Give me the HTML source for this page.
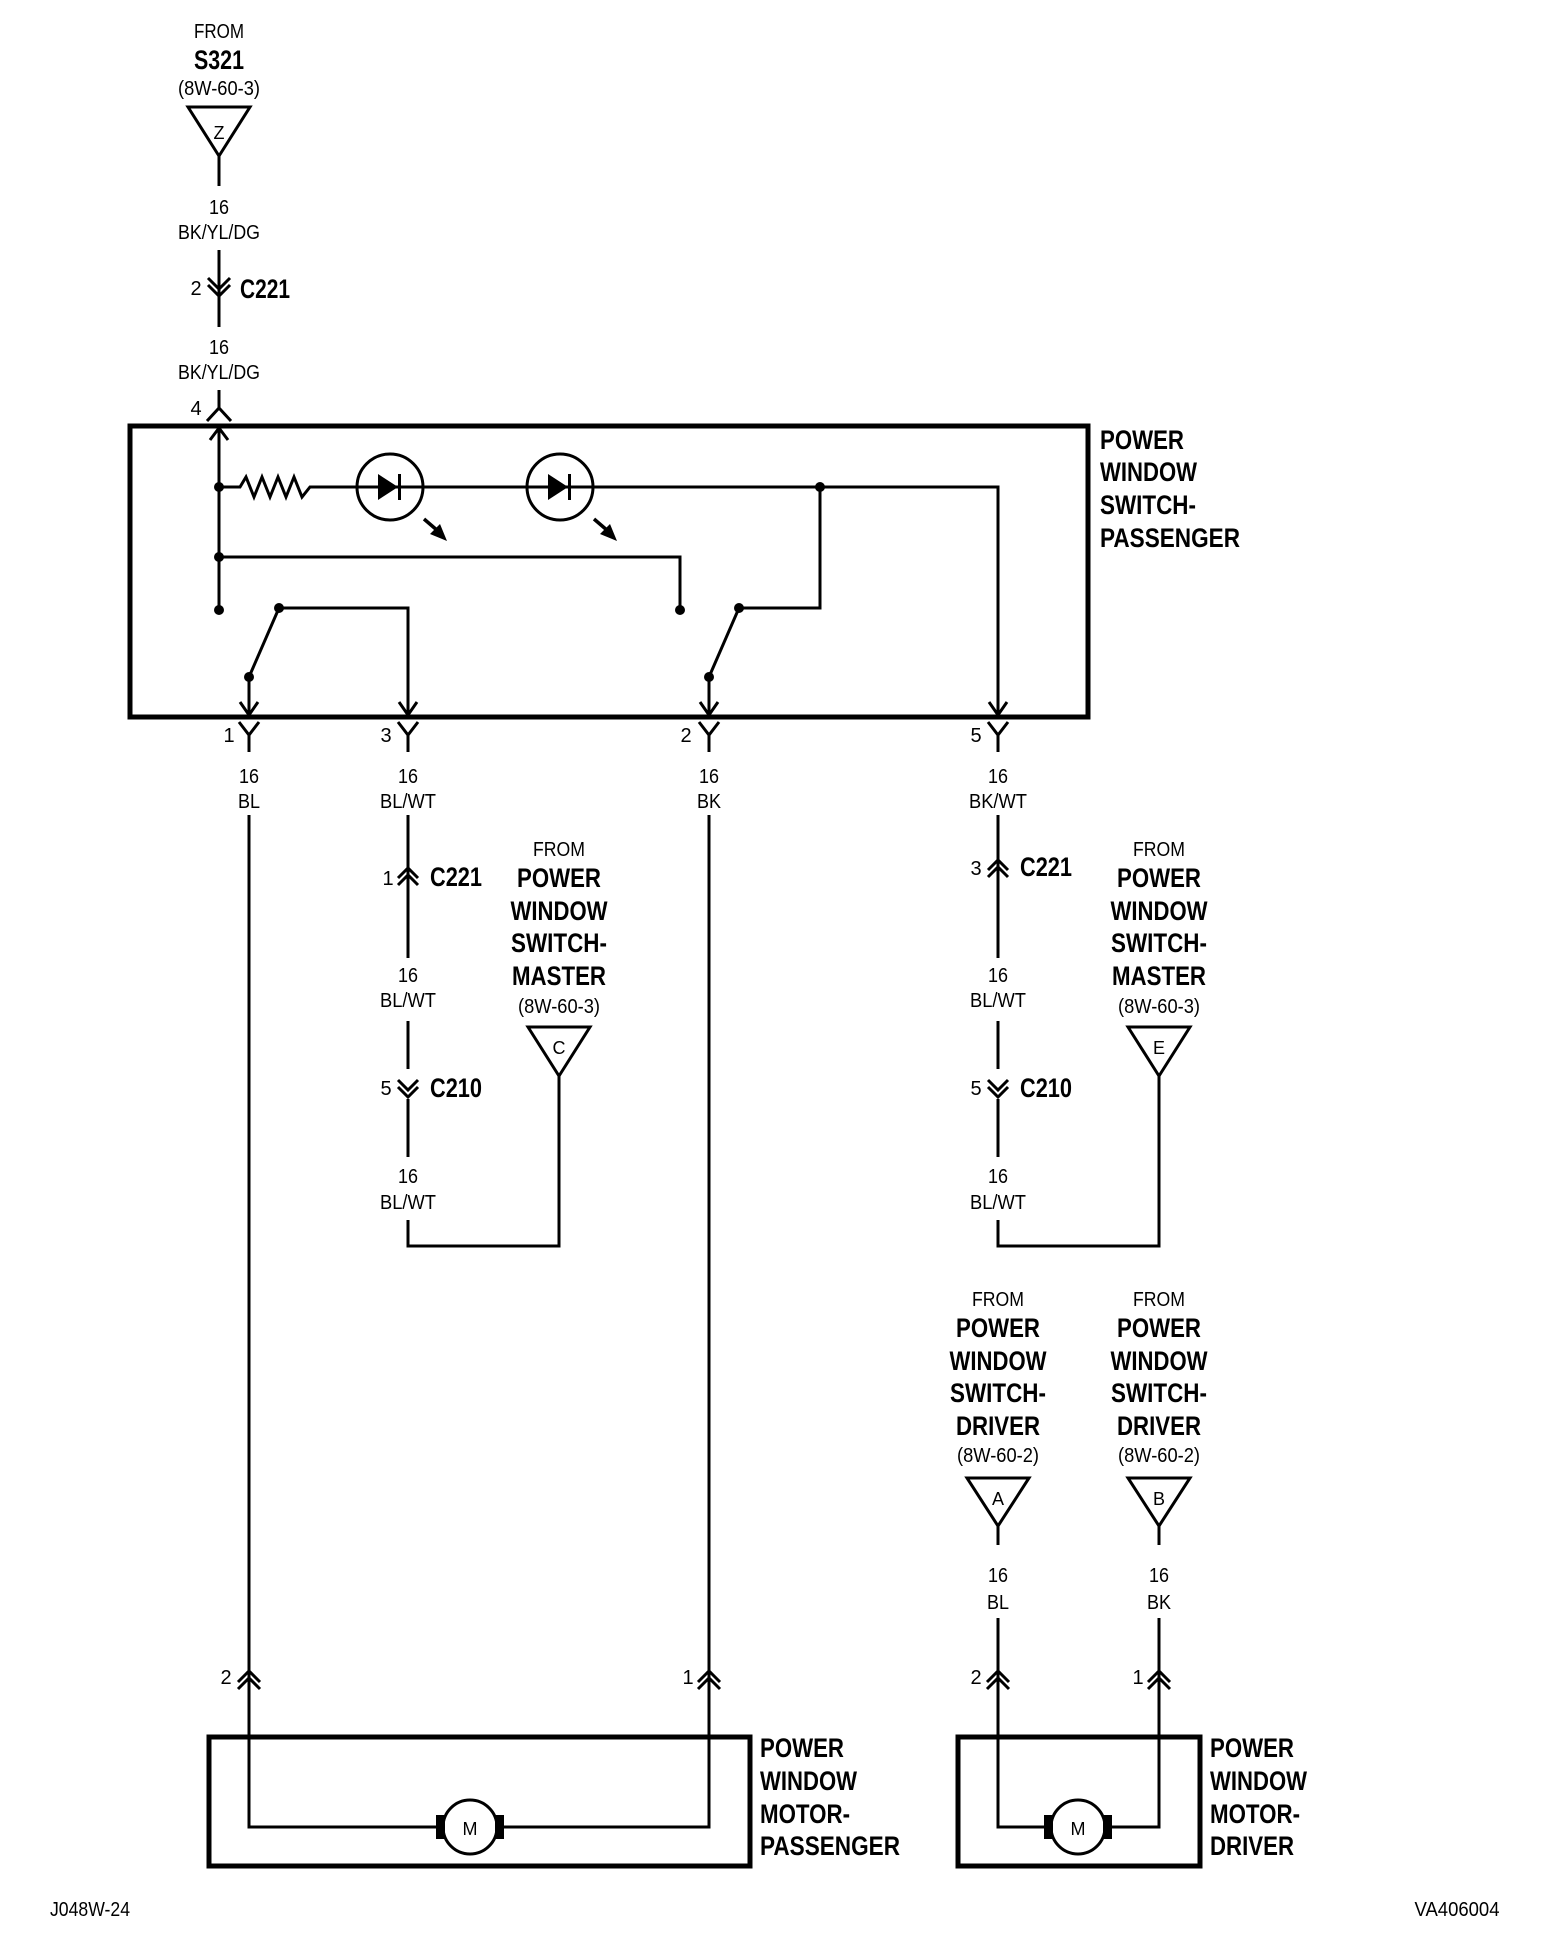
<!DOCTYPE html>
<html><head><meta charset="utf-8"><style>
html,body{margin:0;padding:0;background:#fff;}
svg{display:block}
text{font-family:"Liberation Sans",Arial,sans-serif;fill:#000}
.r{font-size:20px}
.b{font-size:27px;font-weight:bold}
</style></head><body>
<svg width="1568" height="1956" viewBox="0 0 1568 1956" xmlns="http://www.w3.org/2000/svg">
<g fill="none" stroke="#000" stroke-width="3">
<path d="M188,107 L250,107 L219,156 Z"/>
<path d="M219,156 L219,186 M219,250 L219,327 M219,390 L219,408"/>
<path d="M208,278 L219,289 L230,278 M208,285 L219,296 L230,285"/>
<path d="M207,421 L219,408 L231,421"/>
<rect x="130" y="426" width="958" height="291" stroke-width="5"/>
<path d="M219,426 L219,610"/>
<path d="M210,440 L219,428 L228,440"/>
<path d="M219,487 L240,487 L246,477 L254,497 L262,477 L270,497 L278,477 L286,497 L294,477 L302,497 L310,487 L357,487 M423,487 L527,487 M593,487 L998,487 L998,715"/>
<circle cx="390" cy="487" r="33"/>
<circle cx="560" cy="487" r="33"/>
<path d="M357,487 L423,487 M527,487 L593,487"/>
<path d="M424,519 L438,531 M594,519 L608,531" stroke-width="3.5"/>
<path d="M219,557 L680,557 L680,610"/>
<path d="M249,677 L279,608 M279,608 L408,608 L408,715"/>
<path d="M709,677 L739,608 M739,608 L820,608 L820,487"/>
<path d="M249,677 L249,715 M709,677 L709,715"/>
<path d="M240,702 L249,715 L258,702 M399,702 L408,715 L417,702 M700,702 L709,715 L718,702 M989,702 L998,715 L1007,702"/>
<path d="M239,722 L249,735 L259,722 M249,735 L249,752 M398,722 L408,735 L418,722 M408,735 L408,752 M699,722 L709,735 L719,722 M709,735 L709,752 M988,722 L998,735 L1008,722 M998,735 L998,752"/>
<path d="M249,815 L249,1827 L443,1827 M497,1827 L709,1827 L709,815"/>
<path d="M408,815 L408,958 M408,1021 L408,1069 M408,1099 L408,1157 M408,1220 L408,1246 L559,1246 L559,1076"/>
<path d="M398,878 L408,868 L418,878 M398,885 L408,875 L418,885"/>
<path d="M398,1080 L408,1090 L418,1080 M398,1087 L408,1097 L418,1087"/>
<path d="M528,1027 L590,1027 L559,1076 Z"/>
<path d="M998,815 L998,958 M998,1021 L998,1069 M998,1099 L998,1157 M998,1220 L998,1246 L1159,1246 L1159,1076"/>
<path d="M988,870 L998,860 L1008,870 M988,877 L998,867 L1008,877"/>
<path d="M988,1080 L998,1090 L1008,1080 M988,1087 L998,1097 L1008,1087"/>
<path d="M1128,1027 L1190,1027 L1159,1076 Z"/>
<path d="M967,1478 L1029,1478 L998,1526 Z"/>
<path d="M1128,1478 L1190,1478 L1159,1526 Z"/>
<path d="M998,1526 L998,1545 M1159,1526 L1159,1545 M998,1618 L998,1827 L1051,1827 M1105,1827 L1159,1827 L1159,1618"/>
<path d="M238,1682 L249,1671 L260,1682 M238,1689 L249,1678 L260,1689 M698,1682 L709,1671 L720,1682 M698,1689 L709,1678 L720,1689 M987,1682 L998,1671 L1009,1682 M987,1689 L998,1678 L1009,1689 M1148,1682 L1159,1671 L1170,1682 M1148,1689 L1159,1678 L1170,1689"/>
<rect x="209" y="1737" width="541" height="129" stroke-width="5"/>
<rect x="958" y="1737" width="242" height="129" stroke-width="5"/>
<circle cx="470" cy="1827" r="27"/>
<circle cx="1078" cy="1827" r="27"/>
</g>
<g fill="#000">
<circle cx="219" cy="487" r="5"/><circle cx="219" cy="557" r="5"/><circle cx="219" cy="610" r="5"/>
<circle cx="820" cy="487" r="5"/><circle cx="680" cy="610" r="5"/>
<circle cx="249" cy="677" r="5"/><circle cx="279" cy="608" r="5"/>
<circle cx="709" cy="677" r="5"/><circle cx="739" cy="608" r="5"/>
<path d="M378,474 L378,500 L398,487 Z"/><rect x="398" y="474" width="3" height="26"/>
<path d="M548,474 L548,500 L568,487 Z"/><rect x="568" y="474" width="3" height="26"/>
<path d="M447,541 L430,534 L440,524 Z M617,541 L600,534 L610,524 Z"/>
<rect x="436" y="1815" width="9" height="24"/><rect x="495" y="1815" width="9" height="24"/>
<rect x="1044" y="1815" width="9" height="24"/><rect x="1103" y="1815" width="9" height="24"/>
</g>
<g class="r" text-anchor="middle">
<text x="219" y="38" textLength="50" lengthAdjust="spacingAndGlyphs">FROM</text>
<text x="219" y="95" textLength="82" lengthAdjust="spacingAndGlyphs">(8W-60-3)</text>
<text x="219" y="139" font-size="18">Z</text>
<text x="219" y="214" textLength="20" lengthAdjust="spacingAndGlyphs">16</text>
<text x="219" y="239" textLength="82" lengthAdjust="spacingAndGlyphs">BK/YL/DG</text>
<text x="219" y="354" textLength="20" lengthAdjust="spacingAndGlyphs">16</text>
<text x="219" y="379" textLength="82" lengthAdjust="spacingAndGlyphs">BK/YL/DG</text>
<text x="196" y="295">2</text>
<text x="196" y="415">4</text>
<text x="229" y="742">1</text>
<text x="386" y="742">3</text>
<text x="686" y="742">2</text>
<text x="976" y="742">5</text>
<text x="249" y="783" textLength="20" lengthAdjust="spacingAndGlyphs">16</text>
<text x="249" y="808" textLength="22" lengthAdjust="spacingAndGlyphs">BL</text>
<text x="408" y="783" textLength="20" lengthAdjust="spacingAndGlyphs">16</text>
<text x="408" y="808" textLength="56" lengthAdjust="spacingAndGlyphs">BL/WT</text>
<text x="709" y="783" textLength="20" lengthAdjust="spacingAndGlyphs">16</text>
<text x="709" y="808" textLength="24" lengthAdjust="spacingAndGlyphs">BK</text>
<text x="998" y="783" textLength="20" lengthAdjust="spacingAndGlyphs">16</text>
<text x="998" y="808" textLength="58" lengthAdjust="spacingAndGlyphs">BK/WT</text>
<text x="388" y="885">1</text>
<text x="976" y="875">3</text>
<text x="386" y="1095">5</text>
<text x="976" y="1095">5</text>
<text x="408" y="982" textLength="20" lengthAdjust="spacingAndGlyphs">16</text>
<text x="408" y="1007" textLength="56" lengthAdjust="spacingAndGlyphs">BL/WT</text>
<text x="408" y="1183" textLength="20" lengthAdjust="spacingAndGlyphs">16</text>
<text x="408" y="1209" textLength="56" lengthAdjust="spacingAndGlyphs">BL/WT</text>
<text x="998" y="982" textLength="20" lengthAdjust="spacingAndGlyphs">16</text>
<text x="998" y="1007" textLength="56" lengthAdjust="spacingAndGlyphs">BL/WT</text>
<text x="998" y="1183" textLength="20" lengthAdjust="spacingAndGlyphs">16</text>
<text x="998" y="1209" textLength="56" lengthAdjust="spacingAndGlyphs">BL/WT</text>
<text x="559" y="856" textLength="52" lengthAdjust="spacingAndGlyphs">FROM</text>
<text x="559" y="1013" textLength="82" lengthAdjust="spacingAndGlyphs">(8W-60-3)</text>
<text x="559" y="1054" font-size="18">C</text>
<text x="1159" y="856" textLength="52" lengthAdjust="spacingAndGlyphs">FROM</text>
<text x="1159" y="1013" textLength="82" lengthAdjust="spacingAndGlyphs">(8W-60-3)</text>
<text x="1159" y="1054" font-size="18">E</text>
<text x="998" y="1306" textLength="52" lengthAdjust="spacingAndGlyphs">FROM</text>
<text x="998" y="1462" textLength="82" lengthAdjust="spacingAndGlyphs">(8W-60-2)</text>
<text x="998" y="1505" font-size="18">A</text>
<text x="1159" y="1306" textLength="52" lengthAdjust="spacingAndGlyphs">FROM</text>
<text x="1159" y="1462" textLength="82" lengthAdjust="spacingAndGlyphs">(8W-60-2)</text>
<text x="1159" y="1505" font-size="18">B</text>
<text x="998" y="1582" textLength="20" lengthAdjust="spacingAndGlyphs">16</text>
<text x="998" y="1609" textLength="22" lengthAdjust="spacingAndGlyphs">BL</text>
<text x="1159" y="1582" textLength="20" lengthAdjust="spacingAndGlyphs">16</text>
<text x="1159" y="1609" textLength="24" lengthAdjust="spacingAndGlyphs">BK</text>
<text x="226" y="1684">2</text>
<text x="688" y="1684">1</text>
<text x="976" y="1684">2</text>
<text x="1138" y="1684">1</text>
<text x="470" y="1835" font-size="18">M</text>
<text x="1078" y="1835" font-size="18">M</text>
<text x="90" y="1916" textLength="80" lengthAdjust="spacingAndGlyphs">J048W-24</text>
<text x="1457" y="1916" textLength="85" lengthAdjust="spacingAndGlyphs">VA406004</text>
</g>
<g class="b" text-anchor="middle">
<text x="219" y="69" textLength="50" lengthAdjust="spacingAndGlyphs">S321</text>
<text x="559" y="887" textLength="84" lengthAdjust="spacingAndGlyphs">POWER</text>
<text x="559" y="920" textLength="97" lengthAdjust="spacingAndGlyphs">WINDOW</text>
<text x="559" y="952" textLength="96" lengthAdjust="spacingAndGlyphs">SWITCH-</text>
<text x="559" y="985" textLength="94" lengthAdjust="spacingAndGlyphs">MASTER</text>
<text x="1159" y="887" textLength="84" lengthAdjust="spacingAndGlyphs">POWER</text>
<text x="1159" y="920" textLength="97" lengthAdjust="spacingAndGlyphs">WINDOW</text>
<text x="1159" y="952" textLength="96" lengthAdjust="spacingAndGlyphs">SWITCH-</text>
<text x="1159" y="985" textLength="94" lengthAdjust="spacingAndGlyphs">MASTER</text>
<text x="998" y="1337" textLength="84" lengthAdjust="spacingAndGlyphs">POWER</text>
<text x="998" y="1370" textLength="97" lengthAdjust="spacingAndGlyphs">WINDOW</text>
<text x="998" y="1402" textLength="96" lengthAdjust="spacingAndGlyphs">SWITCH-</text>
<text x="998" y="1435" textLength="84" lengthAdjust="spacingAndGlyphs">DRIVER</text>
<text x="1159" y="1337" textLength="84" lengthAdjust="spacingAndGlyphs">POWER</text>
<text x="1159" y="1370" textLength="97" lengthAdjust="spacingAndGlyphs">WINDOW</text>
<text x="1159" y="1402" textLength="96" lengthAdjust="spacingAndGlyphs">SWITCH-</text>
<text x="1159" y="1435" textLength="84" lengthAdjust="spacingAndGlyphs">DRIVER</text>
</g>
<g class="b">
<text x="240" y="298" textLength="50" lengthAdjust="spacingAndGlyphs">C221</text>
<text x="430" y="886" textLength="52" lengthAdjust="spacingAndGlyphs">C221</text>
<text x="430" y="1097" textLength="52" lengthAdjust="spacingAndGlyphs">C210</text>
<text x="1020" y="876" textLength="52" lengthAdjust="spacingAndGlyphs">C221</text>
<text x="1020" y="1097" textLength="52" lengthAdjust="spacingAndGlyphs">C210</text>
<text x="1100" y="449" textLength="84" lengthAdjust="spacingAndGlyphs">POWER</text>
<text x="1100" y="481" textLength="97" lengthAdjust="spacingAndGlyphs">WINDOW</text>
<text x="1100" y="514" textLength="96" lengthAdjust="spacingAndGlyphs">SWITCH-</text>
<text x="1100" y="547" textLength="140" lengthAdjust="spacingAndGlyphs">PASSENGER</text>
<text x="760" y="1757" textLength="84" lengthAdjust="spacingAndGlyphs">POWER</text>
<text x="760" y="1790" textLength="97" lengthAdjust="spacingAndGlyphs">WINDOW</text>
<text x="760" y="1823" textLength="90" lengthAdjust="spacingAndGlyphs">MOTOR-</text>
<text x="760" y="1855" textLength="140" lengthAdjust="spacingAndGlyphs">PASSENGER</text>
<text x="1210" y="1757" textLength="84" lengthAdjust="spacingAndGlyphs">POWER</text>
<text x="1210" y="1790" textLength="97" lengthAdjust="spacingAndGlyphs">WINDOW</text>
<text x="1210" y="1823" textLength="90" lengthAdjust="spacingAndGlyphs">MOTOR-</text>
<text x="1210" y="1855" textLength="84" lengthAdjust="spacingAndGlyphs">DRIVER</text>
</g>
</svg>
</body></html>
